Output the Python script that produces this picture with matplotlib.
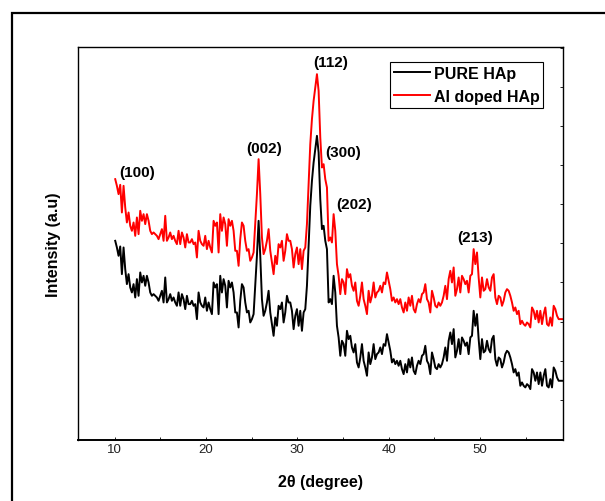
import numpy as np
import matplotlib
matplotlib.use("Agg")
import matplotlib.pyplot as plt
from matplotlib.patches import Rectangle
from matplotlib.ticker import MultipleLocator

plt.rcParams['font.family'] = ['Liberation Sans', 'DejaVu Sans']

# XRD intensities (a.u.), 2theta scan 10.07 -> 58.98 deg
pure_hap = [
    595, 575, 550, 578, 495, 575, 510, 465, 495, 455,
    440, 465, 425, 480, 430, 500, 470, 490, 460, 490,
    470, 440, 430, 435, 430, 425, 415, 430, 445, 410,
    485, 410, 420, 435, 415, 425, 410, 400, 440, 400,
    435, 420, 390, 430, 405, 405, 415, 400, 405, 360,
    440, 410, 400, 395, 425, 385, 410, 390, 375, 470,
    455, 465, 375, 490, 440, 480, 460, 395, 475, 455,
    470, 440, 380, 380, 335, 415, 465, 455, 410, 380,
    385, 350, 360, 375, 460, 550, 655, 550, 420, 370,
    385, 410, 445, 380, 345, 310, 365, 340, 400, 390,
    410, 350, 380, 430, 410, 410, 385, 330, 370, 390,
    340, 385, 325, 380, 390, 460, 580, 700, 775, 830,
    870, 910, 860, 720, 630, 640, 595, 570, 410, 420,
    405, 490, 440, 340, 305, 250, 295, 285, 250, 325,
    300, 310, 275, 260, 285, 230, 215, 245, 285, 235,
    215, 190, 260, 225, 245, 285, 240, 255, 260, 275,
    255, 285, 280, 315, 290, 265, 230, 240, 225, 235,
    220, 235, 210, 195, 225, 200, 240, 215, 245, 205,
    195, 220, 235, 225, 250, 255, 280, 235, 225, 195,
    260, 240, 215, 210, 225, 215, 225, 245, 275, 235,
    295, 320, 285, 330, 245, 265, 300, 255, 305, 295,
    280, 290, 255, 305, 310, 385, 340, 375, 300, 240,
    300, 260, 265, 295, 270, 260, 300, 310, 240, 220,
    245, 240, 215, 230, 255, 265, 260, 245, 225, 200,
    210, 190, 200, 160, 170, 160, 155, 165, 160, 150,
    210, 200, 175, 200, 165, 200, 160, 190, 210, 160,
    155, 180, 155, 215, 205, 185, 175, 175, 175,
]

al_doped_hap = [
    780, 760, 735, 763, 680, 760, 695, 650, 680, 640,
    625, 650, 610, 665, 615, 685, 655, 675, 645, 675,
    655, 625, 615, 620, 615, 610, 600, 615, 630, 595,
    670, 595, 605, 620, 600, 610, 595, 585, 625, 585,
    620, 605, 575, 615, 590, 590, 600, 585, 590, 545,
    625, 595, 585, 580, 610, 570, 595, 575, 560, 655,
    640, 650, 560, 675, 625, 665, 645, 580, 660, 640,
    655, 625, 565, 565, 520, 600, 650, 640, 595, 565,
    570, 535, 545, 560, 645, 735, 840, 735, 605, 555,
    570, 595, 630, 565, 530, 495, 550, 525, 585, 575,
    595, 535, 565, 615, 595, 595, 570, 515, 555, 575,
    525, 570, 510, 565, 575, 645, 765, 885, 960, 1015,
    1055, 1095, 1045, 905, 815, 825, 780, 755, 595, 605,
    590, 675, 625, 525, 490, 435, 480, 470, 435, 510,
    485, 495, 460, 445, 470, 415, 400, 430, 470, 420,
    400, 375, 445, 410, 430, 470, 425, 440, 445, 460,
    440, 470, 465, 500, 475, 450, 415, 425, 410, 420,
    405, 420, 395, 380, 410, 385, 425, 400, 430, 390,
    380, 405, 420, 410, 435, 440, 465, 420, 410, 380,
    445, 425, 400, 395, 410, 400, 410, 430, 460, 420,
    480, 505, 470, 515, 430, 450, 485, 440, 490, 480,
    465, 475, 440, 490, 495, 570, 525, 560, 485, 425,
    485, 445, 450, 480, 455, 445, 485, 495, 425, 405,
    430, 425, 400, 415, 440, 450, 445, 430, 410, 385,
    395, 375, 385, 345, 355, 345, 340, 350, 345, 335,
    395, 385, 360, 385, 350, 385, 345, 375, 395, 345,
    340, 365, 340, 400, 390, 370, 360, 360, 360,
]

two_theta = np.linspace(10.07, 58.98, len(pure_hap))

# reflection labels
hkl_labels = ["(100)", "(002)", "(112)", "(300)", "(202)", "(213)"]
hkl_pos = [(12.45, 800), (26.42, 873), (33.61, 1132), (35.07, 860), (36.24, 705), (49.42, 607)]

fig = plt.figure(figsize=(6.05, 5.02), dpi=100)
ax = fig.add_axes([0.129, 0.122, 0.801, 0.782])

ax.plot(two_theta, pure_hap, color="black", lw=1.4, label="PURE HAp")
ax.plot(two_theta, al_doped_hap, color="#ff0000", lw=1.4, label="Al doped HAp")

for lab, (x, y) in zip(hkl_labels, hkl_pos):
    ax.text(x, y, lab, ha="center", va="center", fontsize=11, fontweight="bold")

ax.set_xlim(6.0, 59.05)
ax.set_ylim(-2, 1176)
ax.set_xticks([10, 20, 30, 40, 50])
ax.xaxis.set_minor_locator(MultipleLocator(5))
ax.tick_params(axis="x", which="both", direction="in", length=2, width=0.6,
               labelsize=9.5, labelcolor="#222222", pad=2)
ax.yaxis.tick_right()
ax.yaxis.set_major_locator(MultipleLocator(117.5))
ax.tick_params(axis="y", direction="in", length=2, width=0.6, labelright=False)

for s in ax.spines.values():
    s.set_linewidth(1.0)
ax.spines["bottom"].set_linewidth(1.4)

ax.set_xlabel("2θ (degree)", fontsize=11.5, fontweight="bold", labelpad=14)
ax.set_ylabel("Intensity (a.u)", fontsize=11.5, fontweight="bold", labelpad=12)

leg = ax.legend(loc="upper right", bbox_to_anchor=(0.96, 0.963),
                prop={"weight": "bold", "size": 11.5}, fancybox=False, framealpha=1,
                borderpad=0.25, handlelength=2.3, handletextpad=0.2, labelspacing=0.5,
                borderaxespad=0)
leg.get_frame().set_edgecolor("black")
leg.get_frame().set_linewidth(0.8)

# outer frame
fig.add_artist(Rectangle((12 / 605, -0.1), 1.2, 0.972 + 0.1, transform=fig.transFigure,
                         fill=False, edgecolor="black", linewidth=1.6))

fig.savefig("out.png", dpi=100)
